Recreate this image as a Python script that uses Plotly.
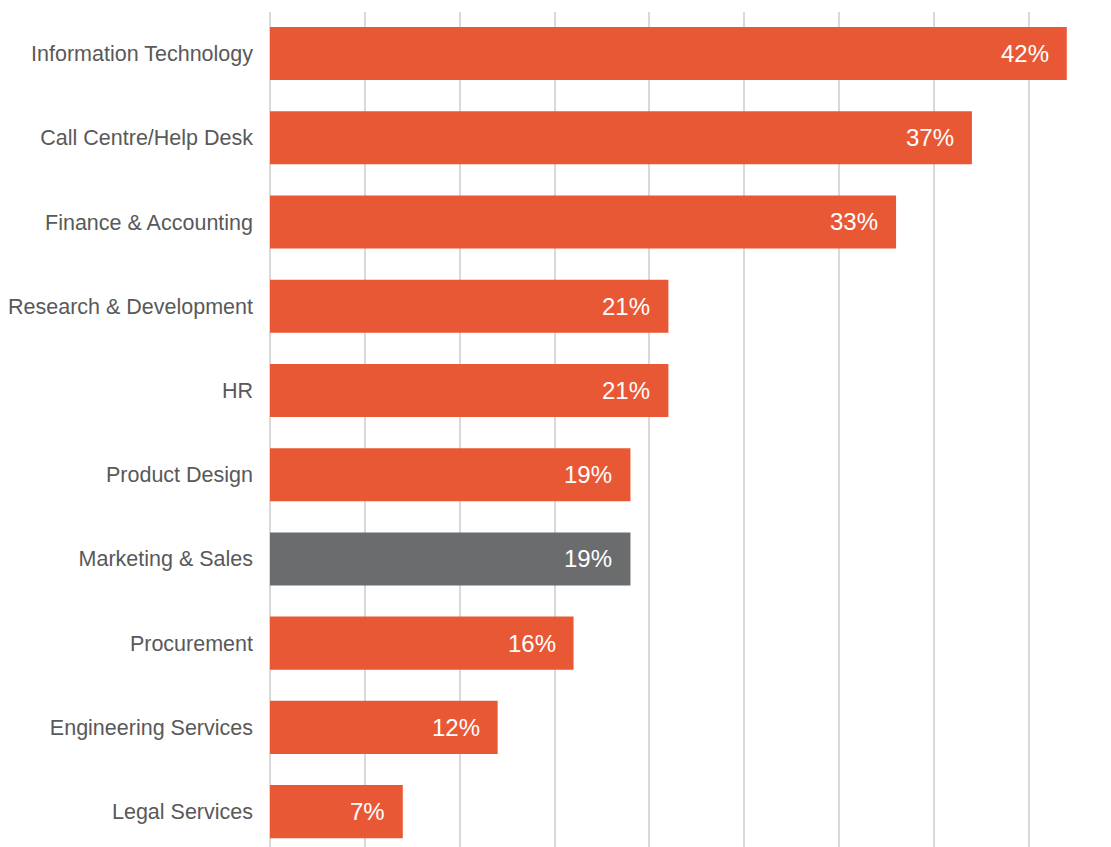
import plotly.graph_objects as go

categories = ["Information Technology", "Call Centre/Help Desk", "Finance & Accounting",
              "Research & Development", "HR", "Product Design", "Marketing & Sales",
              "Procurement", "Engineering Services", "Legal Services"]
values = [42, 37, 33, 21, 21, 19, 19, 16, 12, 7]
highlight = "Marketing & Sales"

ORANGE = "#E95835"
GRAY = "#6B6C6E"
colors = [GRAY if c == highlight else ORANGE for c in categories]

fig = go.Figure(go.Bar(
    x=values, y=categories, orientation="h",
    marker=dict(color=colors, line=dict(width=0)),
    width=0.63, hoverinfo="skip",
))

for c, v in zip(categories, values):
    fig.add_annotation(x=v, y=c, text=f"{v}%", showarrow=False,
                       xanchor="right", yanchor="middle", xshift=-16,
                       font=dict(family="Liberation Sans, Arial", size=24, color="white"))

fig.update_layout(
    width=1111, height=847,
    margin=dict(l=270, r=11, t=12, b=0),
    plot_bgcolor="white", paper_bgcolor="white",
    showlegend=False,
    font=dict(family="Liberation Sans, Arial", color="#595959"),
    xaxis=dict(range=[0, 43.75], dtick=5, tick0=0, showticklabels=False,
               showgrid=True, gridcolor="#D9D9D9", gridwidth=2,
               zeroline=True, zerolinecolor="#D9D9D9", zerolinewidth=2,
               showline=False, fixedrange=True),
    yaxis=dict(categoryorder="array", categoryarray=categories,
               range=[9.42, -0.493], showgrid=False, zeroline=False, showline=False,
               ticks="", ticklabelstandoff=16,
               tickfont=dict(family="Liberation Sans, Arial", size=21.5, color="#595959")),
)

fig.write_html("out.html")
